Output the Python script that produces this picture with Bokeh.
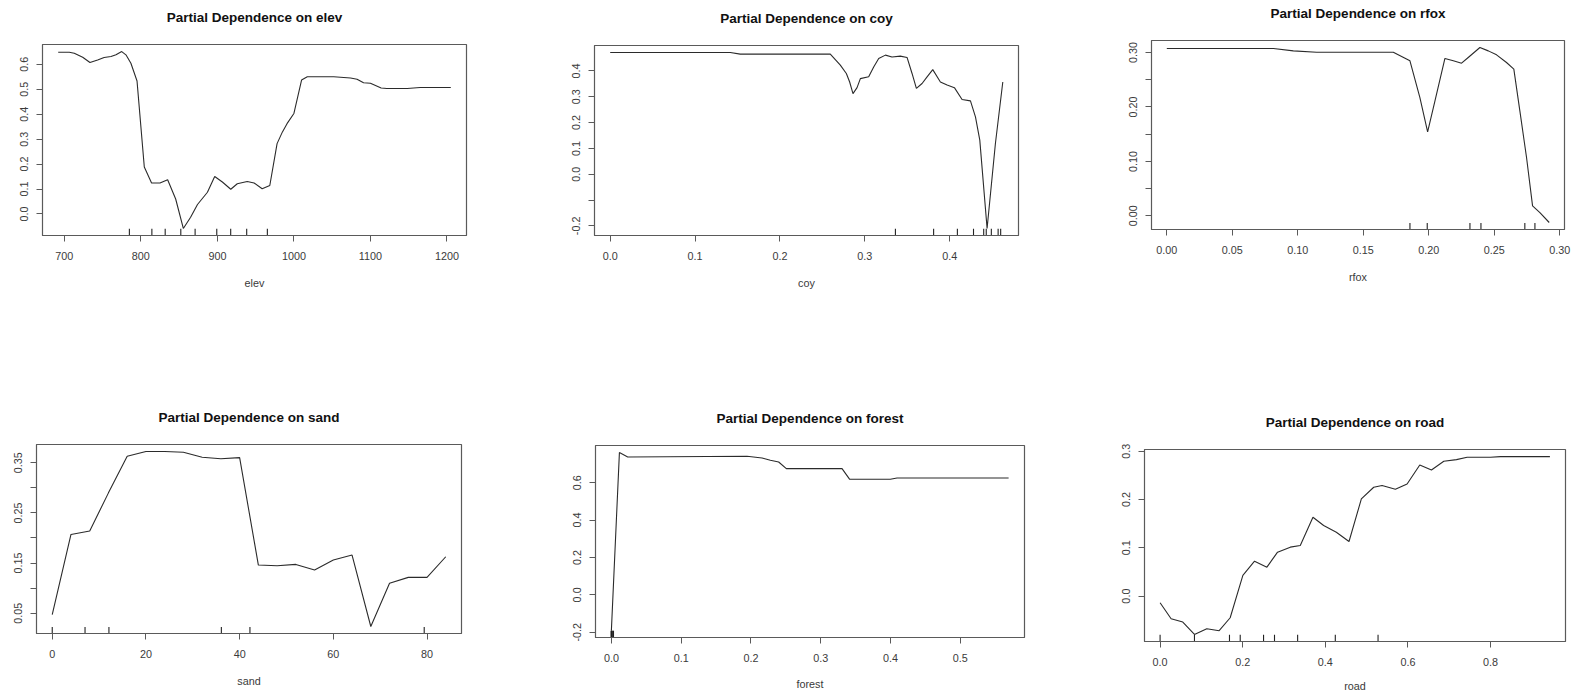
from bokeh.plotting import figure
from bokeh.layouts import column, row
from bokeh.models import Range1d, FixedTicker, LinearAxis
from bokeh.embed import file_html
from bokeh.resources import INLINE

# ---------------- data ----------------
elev_x = [692, 706.5, 713, 724, 733.5, 743.5, 752, 761, 767.5, 775, 780.5, 787, 795, 804.5,
          814, 825, 835, 845.5, 855.5, 865, 874, 887, 896.5, 906.5, 917.5, 926, 939, 948,
          958.5, 968.5, 978, 985, 991, 1000, 1010, 1017.5, 1026, 1052, 1074, 1082.5, 1091,
          1100, 1114, 1121.5, 1148, 1165, 1205]
elev_y = [0.648, 0.648, 0.644, 0.628, 0.607, 0.617, 0.627, 0.631, 0.638, 0.651, 0.638, 0.604,
          0.533, 0.188, 0.124, 0.124, 0.137, 0.060, -0.058, -0.013, 0.038, 0.087, 0.150, 0.128,
          0.099, 0.121, 0.130, 0.124, 0.101, 0.114, 0.282, 0.329, 0.362, 0.403, 0.537, 0.550,
          0.550, 0.550, 0.545, 0.540, 0.526, 0.524, 0.505, 0.503, 0.503, 0.507, 0.507]
elev_rug = [785, 814.4, 831.8, 852.2, 870.9, 899.2, 917.4, 938.3, 965.3]
elev_xticks = [700, 800, 900, 1000, 1100, 1200]
elev_xlabels = ["700", "800", "900", "1000", "1100", "1200"]
elev_yticks = [0.0, 0.1, 0.2, 0.3, 0.4, 0.5, 0.6]
elev_ylabels = ["0.0", "0.1", "0.2", "0.3", "0.4", "0.5", "0.6"]

coy_x = [0.0, 0.1415, 0.1532, 0.2593, 0.2711, 0.2782, 0.2821, 0.286, 0.2908, 0.2947, 0.3045,
         0.3104, 0.3163, 0.3242, 0.332, 0.3418, 0.3497, 0.3556, 0.3607, 0.3674, 0.3733, 0.38,
         0.389, 0.3969, 0.4055, 0.4145, 0.4244, 0.4303, 0.4354, 0.444, 0.4538, 0.4625]
coy_y = [0.471, 0.471, 0.465, 0.465, 0.422, 0.390, 0.357, 0.312, 0.335, 0.370, 0.377, 0.415,
         0.448, 0.461, 0.454, 0.457, 0.452, 0.390, 0.332, 0.351, 0.377, 0.405, 0.357, 0.345,
         0.335, 0.289, 0.284, 0.222, 0.132, -0.210, 0.119, 0.357]
coy_rug = [0.336, 0.381, 0.409, 0.428, 0.440, 0.443, 0.449, 0.457, 0.460]
coy_xticks = [0.0, 0.1, 0.2, 0.3, 0.4]
coy_xlabels = ["0.0", "0.1", "0.2", "0.3", "0.4"]
coy_yticks = [-0.2, -0.1, 0.0, 0.1, 0.2, 0.3, 0.4]
coy_ylabels = ["-0.2", "", "0.0", "0.1", "0.2", "0.3", "0.4"]

rfox_x = [0.0, 0.0814, 0.0966, 0.1144, 0.1729, 0.1856, 0.1932, 0.1991, 0.2047, 0.2123, 0.2187,
          0.225, 0.2301, 0.239, 0.2454, 0.2517, 0.2593, 0.2649, 0.2695, 0.2746, 0.2792, 0.2848,
          0.2919]
rfox_y = [0.3073, 0.3073, 0.303, 0.3006, 0.3006, 0.2847, 0.2173, 0.1543, 0.2112, 0.2890, 0.2847,
          0.2804, 0.2908, 0.3092, 0.303, 0.2957, 0.2816, 0.2694, 0.1929, 0.1071, 0.0184, 0.0061,
          -0.0122]
rfox_rug = [0.1856, 0.1988, 0.2314, 0.2398, 0.2733, 0.2810]
rfox_xticks = [0.0, 0.05, 0.10, 0.15, 0.20, 0.25, 0.30]
rfox_xlabels = ["0.00", "0.05", "0.10", "0.15", "0.20", "0.25", "0.30"]
rfox_yticks = [0.0, 0.05, 0.10, 0.15, 0.20, 0.25, 0.30]
rfox_ylabels = ["0.00", "", "0.10", "", "0.20", "", "0.30"]

sand_x = [0, 4, 8, 12, 16, 20, 24, 28, 32, 36, 40, 44, 48, 52, 56, 60, 64, 68, 72, 76, 80, 84]
sand_y = [0.047, 0.207, 0.214, 0.290, 0.363, 0.3725, 0.3725, 0.371, 0.361, 0.358, 0.3603, 0.146,
          0.1447, 0.1473, 0.136, 0.156, 0.166, 0.0235, 0.1096, 0.1215, 0.1215, 0.1626]
sand_rug = [0, 7.0, 12.1, 36.1, 42.2, 79.4]
sand_xticks = [0, 20, 40, 60, 80]
sand_xlabels = ["0", "20", "40", "60", "80"]
sand_yticks = [0.05, 0.10, 0.15, 0.20, 0.25, 0.30, 0.35]
sand_ylabels = ["0.05", "", "0.15", "", "0.25", "", "0.35"]

forest_x = [0.0, 0.0115, 0.0234, 0.1944, 0.2159, 0.2278, 0.2397, 0.2507, 0.3305, 0.3415,
            0.3997, 0.4093, 0.5692]
forest_y = [-0.19, 0.7607, 0.7375, 0.741, 0.732, 0.7196, 0.7107, 0.675, 0.675, 0.6179, 0.6179,
            0.625, 0.625]
forest_rug = [0.0, 0.0, 0.0, 0.0, 0.001, 0.002, 0.003]
forest_xticks = [0.0, 0.1, 0.2, 0.3, 0.4, 0.5]
forest_xlabels = ["0.0", "0.1", "0.2", "0.3", "0.4", "0.5"]
forest_yticks = [-0.2, 0.0, 0.2, 0.4, 0.6]
forest_ylabels = ["-0.2", "0.0", "0.2", "0.4", "0.6"]

road_x = [0.0, 0.0267, 0.055, 0.0832, 0.1131, 0.143, 0.1697, 0.2004, 0.2287, 0.2586, 0.2844,
          0.3152, 0.3394, 0.3701, 0.396, 0.4267, 0.4574, 0.4873, 0.5172, 0.5374, 0.5697, 0.598,
          0.6287, 0.657, 0.6869, 0.7176, 0.7434, 0.8, 0.8242, 0.9438]
road_y = [-0.0138, -0.0469, -0.0538, -0.0793, -0.0676, -0.0717, -0.0448, 0.0428, 0.0724, 0.06,
          0.091, 0.1014, 0.1048, 0.1634, 0.1462, 0.1324, 0.1131, 0.2014, 0.2255, 0.229, 0.2214,
          0.2324, 0.2717, 0.2614, 0.2793, 0.2828, 0.2876, 0.2876, 0.289, 0.289]
road_rug = [0.0, 0.0832, 0.168, 0.194, 0.2505, 0.277, 0.333, 0.4242, 0.5277]
road_xticks = [0.0, 0.2, 0.4, 0.6, 0.8]
road_xlabels = ["0.0", "0.2", "0.4", "0.6", "0.8"]
road_yticks = [0.0, 0.1, 0.2, 0.3]
road_ylabels = ["0.0", "0.1", "0.2", "0.3"]

FONT = "Liberation Sans"
TEXT = "#3a3a3a"
LINE = "#2b2b2b"
BOX = "#5a5a5a"


def padded(vals):
    lo, hi = min(vals), max(vals)
    d = (hi - lo) * 0.04
    return lo - d, hi + d


def panel(name, xs, ys, rug, xticks, xlabels, yticks, ylabels,
          fw, fh, left, right, top, bottom, xlab_standoff=14):
    x0, x1 = padded(xs)
    y0, y1 = padded(ys)
    p = figure(frame_width=fw, frame_height=fh, output_backend="svg", toolbar_location=None,
               x_range=Range1d(x0, x1), y_range=Range1d(y0, y1),
               min_border_left=left, min_border_right=right,
               min_border_top=top, min_border_bottom=bottom, title=None,
               background_fill_color="white", border_fill_color="white")
    # chart title, drawn as the label of a bare axis above the frame
    title_axis = LinearAxis(ticker=FixedTicker(ticks=[]),
                            axis_label="Partial Dependence on " + name,
                            axis_line_color=None, major_tick_line_color=None,
                            minor_tick_line_color=None, major_tick_out=0, major_tick_in=0,
                            major_label_standoff=0, major_label_text_font_size="0px",
                            axis_label_standoff=20, axis_label_text_font=FONT,
                            axis_label_text_font_size="13.5px",
                            axis_label_text_font_style="bold",
                            axis_label_text_color="#111111")
    p.add_layout(title_axis, "above")
    p.grid.visible = False
    p.outline_line_color = BOX
    p.outline_line_width = 1.2
    p.outline_line_alpha = 1.0

    for ax in (p.below[0], p.left[0]):
        ax.axis_line_color = BOX
        ax.major_tick_line_color = BOX
        ax.minor_tick_line_color = None
        ax.major_tick_in = 0
        ax.major_tick_out = 6
        ax.major_label_text_font = FONT
        ax.major_label_text_font_size = "10.8px"
        ax.major_label_text_color = TEXT
        ax.axis_label_text_font = FONT
        ax.axis_label_text_font_size = "10.8px"
        ax.axis_label_text_font_style = "normal"
        ax.axis_label_text_color = TEXT

    xa = p.below[0]
    xa.ticker = FixedTicker(ticks=xticks)
    xa.major_label_overrides = {t: l for t, l in zip(xticks, xlabels)}
    xa.major_label_standoff = 10
    xa.axis_label = name
    xa.axis_label_standoff = xlab_standoff

    ya = p.left[0]
    ya.ticker = FixedTicker(ticks=yticks)
    ya.major_label_overrides = {t: l for t, l in zip(yticks, ylabels)}
    ya.major_label_orientation = "vertical"
    ya.major_label_standoff = 8

    p.line(xs, ys, line_color=LINE, line_width=1.1)
    span = y1 - y0
    p.segment(x0=rug, y0=[y0] * len(rug), x1=rug, y1=[y0 + 0.035 * span] * len(rug),
              line_color="#222222", line_width=1.1)
    return p


f1 = panel("elev", elev_x, elev_y, elev_rug, elev_xticks, elev_xlabels, elev_yticks, elev_ylabels,
           424, 191, 42, 54, 44, 135)
f2 = panel("coy", coy_x, coy_y, coy_rug, coy_xticks, coy_xlabels, coy_yticks, coy_ylabels,
           424, 190, 74, 42, 45, 135)
f3 = panel("rfox", rfox_x, rfox_y, rfox_rug, rfox_xticks, rfox_xlabels, rfox_yticks, rfox_ylabels,
           413, 189, 91, 29, 40, 141)
f4 = panel("sand", sand_x, sand_y, sand_rug, sand_xticks, sand_xlabels, sand_yticks, sand_ylabels,
           425, 189, 36, 59, 74, 62)
f5 = panel("forest", forest_x, forest_y, forest_rug, forest_xticks, forest_xlabels,
           forest_yticks, forest_ylabels, 429, 192, 75, 36, 75, 58, 13)
f6 = panel("road", road_x, road_y, road_rug, road_xticks, road_xlabels, road_yticks, road_ylabels,
           421, 192, 84, 28, 79, 54, 11)

layout = column(row(column(f1), column(f2), column(f3)),
                row(column(f4), column(f5), column(f6)))
open("out.html", "w").write(file_html(layout, INLINE))
